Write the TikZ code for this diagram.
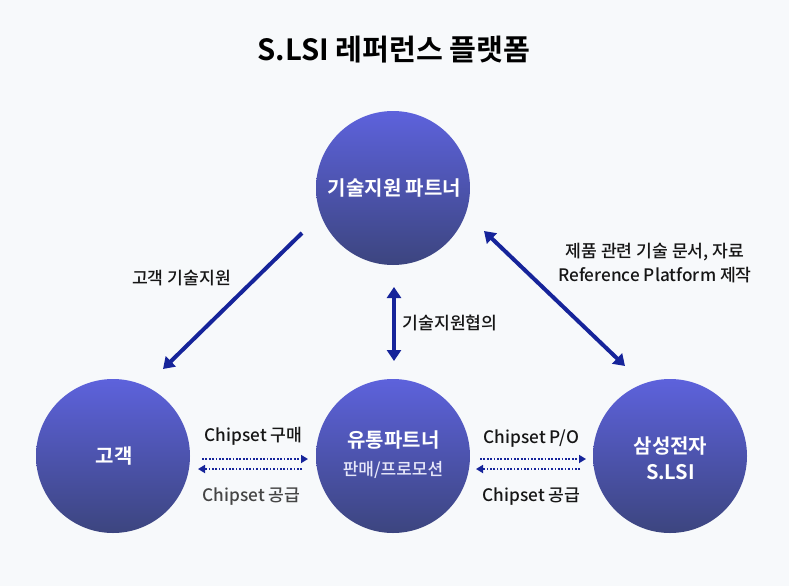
\documentclass[tikz,border=0pt]{standalone}
\usepackage{fontspec}
\setmainfont{Noto Sans CJK KR Medium}
\newfontfamily\krbold{Noto Sans CJK KR Bold}
\usetikzlibrary{arrows.meta}
\definecolor{bgcol}{HTML}{F7F9FB}
\definecolor{arrowcol}{HTML}{16249A}
\definecolor{circtop}{HTML}{5D62DC}
\definecolor{circbot}{HTML}{3C457F}
\definecolor{labcol}{HTML}{161616}
\tikzset{
  circ/.style={circle,minimum size=154pt,inner sep=0pt,top color=circtop,bottom color=circbot},
  circname/.style={inner sep=0pt,text=white,align=center,font=\krbold\fontsize{20}{26}\selectfont},
  lab/.style={text=labcol,inner sep=0pt,align=center,font=\fontsize{17.2}{24}\selectfont},
  bigarrow/.style={draw=arrowcol,line width=4pt,-{Triangle[length=11pt,width=14pt]}},
  botharrow/.style={bigarrow,{Triangle[length=11pt,width=14pt]}-{Triangle[length=11pt,width=14pt]}},
  dotarrow/.style={draw=arrowcol,line width=1.7pt,dash pattern=on 1.7pt off 1.7pt,-{Triangle[length=7pt,width=8pt,sep=0pt]}}
}
\begin{document}
\begin{tikzpicture}[x=1pt,y=-1pt]
\fill [bgcol] (0,0) rectangle (789,586);
\useasboundingbox (0,0) rectangle (789,586);
\node [inner sep=0pt,text=black,font=\krbold\fontsize{29.2}{34}\selectfont] (title) at (394,50) {S.LSI 레퍼런스 플랫폼};
% circles
\node [circ] (support) at (393,188) {};
\node [circ] (customer) at (113,456) {};
\node [circ] (dealer) at (393,456) {};
\node [circ] (slsi) at (670,456) {};
\node [circname] (supportname) at (394.5,188) {기술지원 파트너};
\node [circname] (customername) at (114,456) {고객};
\node [circname] (slsiname) at (670.5,458.5) {삼성전자\\S.LSI};
\node [circname] (dealername) at (393.5,440) {유통파트너};
\node [inner sep=0pt,text=white!85!circtop,font=\fontsize{17}{20}\selectfont] (dealersub) at (393,470) {판매/프로모션};
% arrow ends
\coordinate (c1) at (302,233);
\coordinate (c2) at (163,369);
\coordinate (c3) at (484,231);
\coordinate (c4) at (625,366);
\coordinate (c5) at (394,287);
\coordinate (c6) at (394,361);
\coordinate (d1) at (202,459);
\coordinate (d2) at (308,459);
\coordinate (d3) at (302,469);
\coordinate (d4) at (198,469);
\coordinate (d5) at (480,459);
\coordinate (d6) at (586,459);
\coordinate (d7) at (580,469);
\coordinate (d8) at (476,469);
\draw [bigarrow] (c1) -- (c2);
\draw [botharrow] (c3) -- (c4);
\draw [botharrow] (c5) -- (c6);
\draw [dotarrow] (d1) -- (d2);
\draw [dotarrow] (d3) -- (d4);
\draw [dotarrow] (d5) -- (d6);
\draw [dotarrow] (d7) -- (d8);
% labels
\node [lab] (lab1) at (181.5,278) {고객 기술지원};
\node [lab] (lab2) at (450,323) {기술지원협의};
\node [lab] (lab3) at (655,263.5) {제품 관련 기술 문서, 자료\\Reference Platform 제작};
\node [lab] (lab4) at (253.5,436.5) {Chipset 구매};
\node [lab,text=labcol!80!white] (lab5) at (251.5,497) {Chipset 공급};
\node [lab] (lab6) at (531.5,438.5) {Chipset P/O};
\node [lab] (lab7) at (531.5,497) {Chipset 공급};
\end{tikzpicture}
\end{document}
